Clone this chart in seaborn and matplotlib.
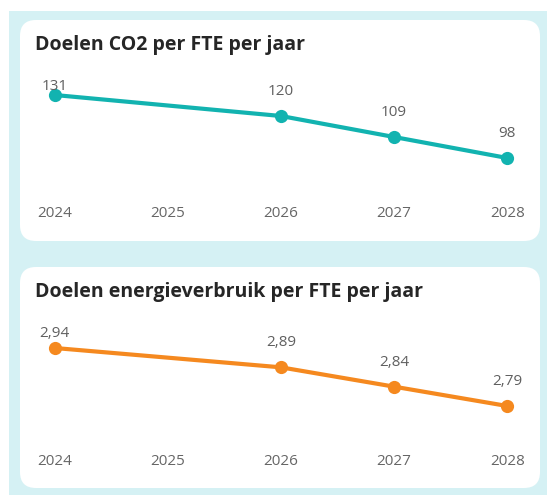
import matplotlib
matplotlib.use("Agg")
import matplotlib.pyplot as plt
from matplotlib.patches import FancyBboxPatch, Rectangle
from matplotlib.transforms import IdentityTransform
import seaborn as sns
import pandas as pd

# ---- data ----
years = [2024, 2026, 2027, 2028]
co2_values = [131, 120, 109, 98]
energy_values = [2.94, 2.89, 2.84, 2.79]
tick_years = [2024, 2025, 2026, 2027, 2028]
co2_labels = ["131", "120", "109", "98"]
energy_labels = ["2,94", "2,89", "2,84", "2,79"]
titles = ["Doelen CO2 per FTE per jaar", "Doelen energieverbruik per FTE per jaar"]

sns.set_theme(style="white")
plt.rcParams['font.family'] = ['Open Sans', 'DejaVu Sans']

W, H = 547, 495
fig = plt.figure(figsize=(W / 100, H / 100), dpi=100)
fig.patch.set_facecolor("white")

CYAN = "#d5f1f4"
TEAL = "#12b3b0"
ORANGE = "#f5891f"
GREY = "#666666"
LABEL_GREY = "#606060"
TITLE = "#262626"

ident = IdentityTransform()

def px_rect(x0, y0, x1, y1):
    # image coords (top-left origin) -> display coords
    return x0, H - y1, x1 - x0, y1 - y0

x, y, w, h = px_rect(9, 11, 547, 495)
fig.patches.append(Rectangle((x, y), w, h, transform=ident, facecolor=CYAN,
                             edgecolor="none", zorder=0))
for (y0, y1) in [(20, 241), (267, 488)]:
    x, y, w, h = px_rect(20, y0, 540, y1)
    fig.patches.append(FancyBboxPatch((x, y), w, h,
                                      boxstyle="round,pad=0,rounding_size=16",
                                      transform=ident, facecolor="white",
                                      edgecolor="none", zorder=1))

def make_axes(y_top, y_bot):
    left, right = 40, 522
    return fig.add_axes([left / W, (H - y_bot) / H, (right - left) / W, (y_bot - y_top) / H])

panels = [
    dict(vals=co2_values, labels=co2_labels, color=TEAL, ytop=70, ybot=200,
         ylim=(76, 144.1), offsets=[3.8, 15.3, 15, 14.8], title_y=50),
    dict(vals=energy_values, labels=energy_labels, color=ORANGE, ytop=320, ybot=448,
         ylim=(2.6814, 3.0124), offsets=[8, 15.3, 15, 15], title_y=297),
]

for i, p in enumerate(panels):
    ax = make_axes(p["ytop"], p["ybot"])
    ax.set_zorder(2)
    ax.patch.set_alpha(0)
    df = pd.DataFrame({"jaar": years, "waarde": p["vals"]})
    sns.lineplot(data=df, x="jaar", y="waarde", ax=ax, color=p["color"],
                 linewidth=3.0, marker="o", markersize=9.5, markeredgewidth=0,
                 clip_on=False)
    ax.set_xlim(2023.87, 2028.13)
    ax.set_ylim(*p["ylim"])
    ax.set_xticks(tick_years)
    ax.set_xticklabels([str(t) for t in tick_years], fontsize=11, color=GREY)
    ax.tick_params(axis="x", length=0, pad=4)
    ax.set_yticks([])
    ax.set_xlabel("")
    ax.set_ylabel("")
    for s in ax.spines.values():
        s.set_visible(False)
    for xv, yv, lab, off in zip(years, p["vals"], p["labels"], p["offsets"]):
        ax.annotate(lab, (xv, yv), xytext=(0, off), textcoords="offset points",
                    ha="center", va="baseline", fontsize=11, color=LABEL_GREY,
                    annotation_clip=False)
    fig.text(35 / W, (H - p["title_y"]) / H, titles[i], fontsize=14,
             fontweight="bold", color=TITLE, ha="left", va="baseline")

fig.savefig("out.png", dpi=100, facecolor=fig.get_facecolor())
